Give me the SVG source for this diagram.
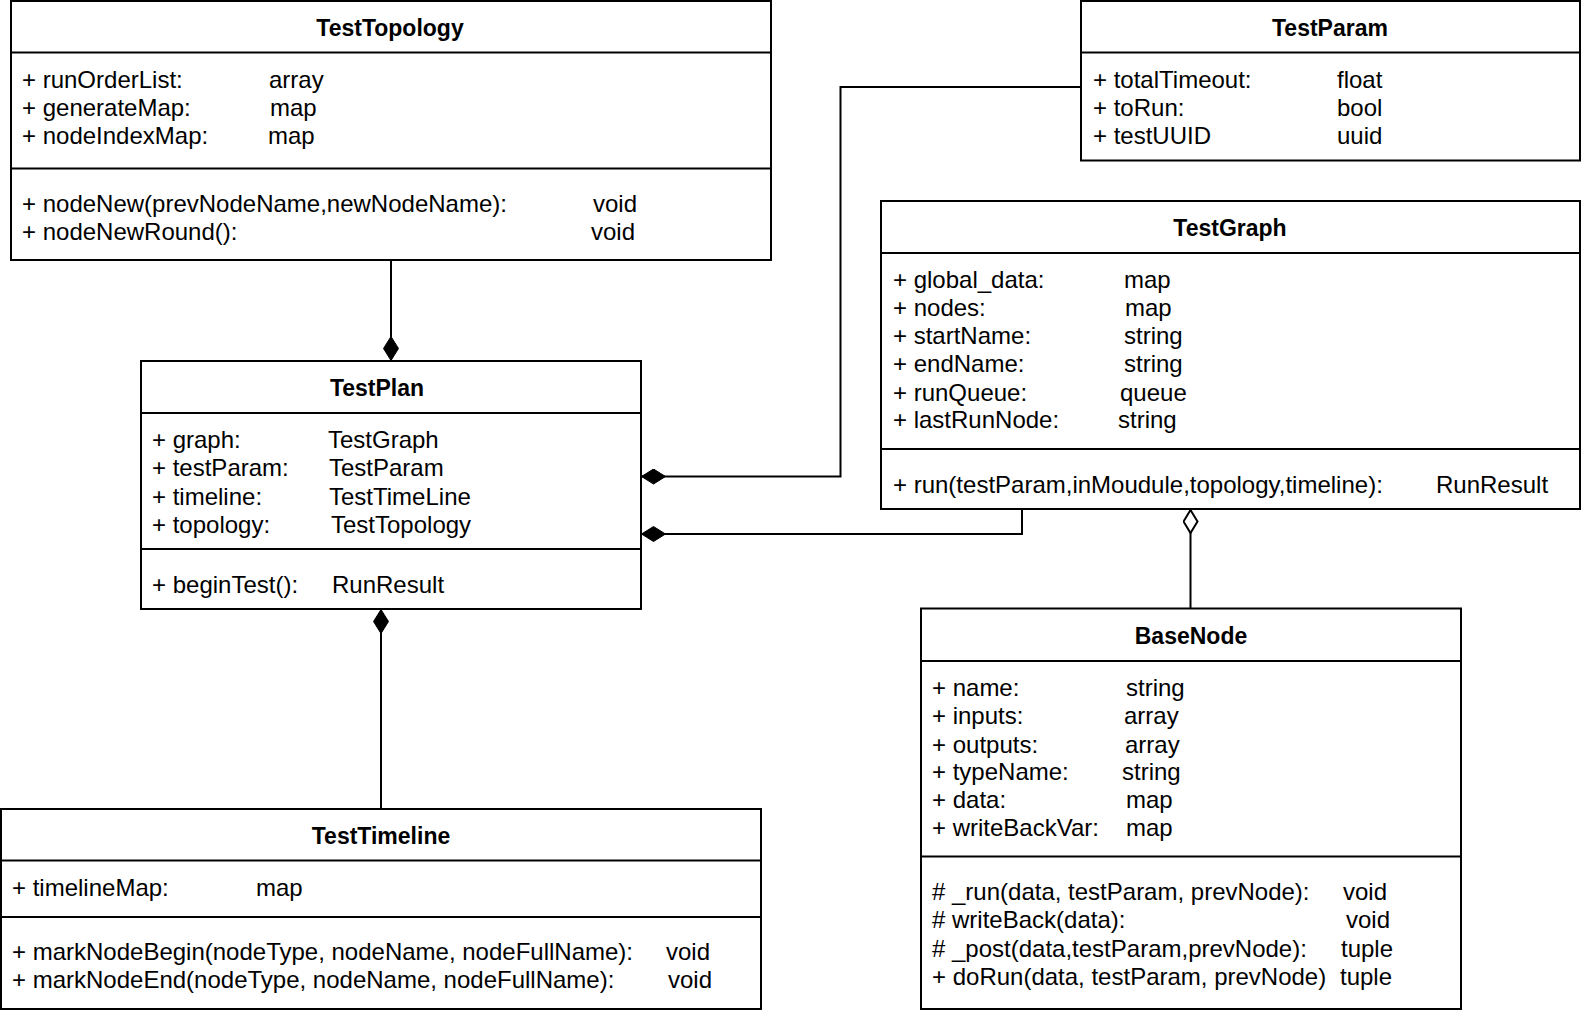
<svg xmlns="http://www.w3.org/2000/svg" width="1582" height="1016" viewBox="0 0 1582 1016">
<style>
  .box { fill: #ffffff; stroke: #000000; stroke-width: 2; }
  .sep { stroke: #000000; stroke-width: 2; fill: none; }
  .title { font-family: "Liberation Sans", Arial, sans-serif; font-weight: bold; font-size: 23px; text-anchor: middle; fill: #000000; }
  .t { font-family: "Liberation Sans", Arial, sans-serif; font-size: 24px; fill: #000000; }
  .conn { stroke: #000000; stroke-width: 2; fill: none; }
</style>
<defs>
  <marker id="diamondFilled" viewBox="0 -8 26 16" markerWidth="26" markerHeight="16" refX="0" refY="0" markerUnits="userSpaceOnUse" orient="auto">
    <path d="M0.5,0 L12.5,-7.5 L24.5,0 L12.5,7.5 Z" fill="#000000" stroke="#000000" stroke-width="1"/>
  </marker>
  <marker id="diamondHollow" viewBox="0 -8 26 16" markerWidth="26" markerHeight="16" refX="0" refY="0" markerUnits="userSpaceOnUse" orient="auto">
    <path d="M1,0 L12.5,-7 L24,0 L12.5,7 Z" fill="#ffffff" stroke="#000000" stroke-width="2"/>
  </marker>
</defs>
<rect x="0" y="0" width="1582" height="1016" fill="#ffffff"/>

<g id="connectors">
  <path class="conn" d="M391,361 V260" marker-start="url(#diamondFilled)"/>
  <path class="conn" d="M641,476.5 H840.5 V87 H1081" marker-start="url(#diamondFilled)"/>
  <path class="conn" d="M641,534 H1022 V509" marker-start="url(#diamondFilled)"/>
  <path class="conn" d="M381,609 V809" marker-start="url(#diamondFilled)"/>
  <path class="conn" d="M1190.5,509 V608.5" marker-start="url(#diamondHollow)"/>
</g>

<g id="TestTopology">
  <rect class="box" x="11" y="1" width="760" height="259"/>
  <line class="sep" x1="11" y1="52.5" x2="771" y2="52.5"/>
  <line class="sep" x1="11" y1="168.5" x2="771" y2="168.5"/>
  <text class="title" x="390" y="36">TestTopology</text>
  <text class="t" x="22" y="88">+ runOrderList:</text><text class="t" x="269" y="88">array</text>
  <text class="t" x="22" y="116">+ generateMap:</text><text class="t" x="270" y="116">map</text>
  <text class="t" x="22" y="144">+ nodeIndexMap:</text><text class="t" x="268" y="144">map</text>
  <text class="t" x="22" y="212">+ nodeNew(prevNodeName,newNodeName):</text><text class="t" x="593" y="212">void</text>
  <text class="t" x="22" y="240">+ nodeNewRound():</text><text class="t" x="591" y="240">void</text>
</g>

<g id="TestParam">
  <rect class="box" x="1081" y="1" width="499" height="159.5"/>
  <line class="sep" x1="1081" y1="52.5" x2="1580" y2="52.5"/>
  <text class="title" x="1330" y="36">TestParam</text>
  <text class="t" x="1093" y="88">+ totalTimeout:</text><text class="t" x="1337" y="88">float</text>
  <text class="t" x="1093" y="116">+ toRun:</text><text class="t" x="1337" y="116">bool</text>
  <text class="t" x="1093" y="144">+ testUUID</text><text class="t" x="1337" y="144">uuid</text>
</g>

<g id="TestGraph">
  <rect class="box" x="881" y="201" width="699" height="308"/>
  <line class="sep" x1="881" y1="253" x2="1580" y2="253"/>
  <line class="sep" x1="881" y1="449" x2="1580" y2="449"/>
  <text class="title" x="1230" y="236">TestGraph</text>
  <text class="t" x="893" y="288">+ global_data:</text><text class="t" x="1124" y="288">map</text>
  <text class="t" x="893" y="316">+ nodes:</text><text class="t" x="1125" y="316">map</text>
  <text class="t" x="893" y="344">+ startName:</text><text class="t" x="1124" y="344">string</text>
  <text class="t" x="893" y="372">+ endName:</text><text class="t" x="1124" y="372">string</text>
  <text class="t" x="893" y="400.5">+ runQueue:</text><text class="t" x="1120" y="400.5">queue</text>
  <text class="t" x="893" y="428">+ lastRunNode:</text><text class="t" x="1118" y="428">string</text>
  <text class="t" x="893" y="492.5">+ run(testParam,inMoudule,topology,timeline):</text><text class="t" x="1436" y="492.5">RunResult</text>
</g>

<g id="TestPlan">
  <rect class="box" x="141" y="361" width="500" height="248"/>
  <line class="sep" x1="141" y1="413" x2="641" y2="413"/>
  <line class="sep" x1="141" y1="549" x2="641" y2="549"/>
  <text class="title" x="377" y="395.5">TestPlan</text>
  <text class="t" x="152" y="448">+ graph:</text><text class="t" x="328" y="448">TestGraph</text>
  <text class="t" x="152" y="476">+ testParam:</text><text class="t" x="329" y="476">TestParam</text>
  <text class="t" x="152" y="504.5">+ timeline:</text><text class="t" x="329" y="504.5">TestTimeLine</text>
  <text class="t" x="152" y="532.5">+ topology:</text><text class="t" x="331" y="532.5">TestTopology</text>
  <text class="t" x="152" y="592.5">+ beginTest():</text><text class="t" x="332" y="592.5">RunResult</text>
</g>

<g id="TestTimeline">
  <rect class="box" x="1" y="809" width="760" height="200"/>
  <line class="sep" x1="1" y1="860.6" x2="761" y2="860.6"/>
  <line class="sep" x1="1" y1="917" x2="761" y2="917"/>
  <text class="title" x="381" y="843.5">TestTimeline</text>
  <text class="t" x="12" y="896">+ timelineMap:</text><text class="t" x="256" y="896">map</text>
  <text class="t" x="12" y="959.5">+ markNodeBegin(nodeType, nodeName, nodeFullName):</text><text class="t" x="666" y="959.5">void</text>
  <text class="t" x="12" y="987.5">+ markNodeEnd(nodeType, nodeName, nodeFullName):</text><text class="t" x="668" y="987.5">void</text>
</g>

<g id="BaseNode">
  <rect class="box" x="921" y="608.5" width="540" height="400.5"/>
  <line class="sep" x1="921" y1="661" x2="1461" y2="661"/>
  <line class="sep" x1="921" y1="856.6" x2="1461" y2="856.6"/>
  <text class="title" x="1191" y="643.5">BaseNode</text>
  <text class="t" x="932" y="696">+ name:</text><text class="t" x="1126" y="696">string</text>
  <text class="t" x="932" y="724">+ inputs:</text><text class="t" x="1124" y="724">array</text>
  <text class="t" x="932" y="752.5">+ outputs:</text><text class="t" x="1125" y="752.5">array</text>
  <text class="t" x="932" y="780">+ typeName:</text><text class="t" x="1122" y="780">string</text>
  <text class="t" x="932" y="808">+ data:</text><text class="t" x="1126" y="808">map</text>
  <text class="t" x="932" y="836">+ writeBackVar:</text><text class="t" x="1126" y="836">map</text>
  <text class="t" x="932" y="900"># _run(data, testParam, prevNode):</text><text class="t" x="1343" y="900">void</text>
  <text class="t" x="932" y="928"># writeBack(data):</text><text class="t" x="1346" y="928">void</text>
  <text class="t" x="932" y="956.5"># _post(data,testParam,prevNode):</text><text class="t" x="1341" y="956.5">tuple</text>
  <text class="t" x="932" y="984.5">+ doRun(data, testParam, prevNode)</text><text class="t" x="1340" y="984.5">tuple</text>
</g>
</svg>
